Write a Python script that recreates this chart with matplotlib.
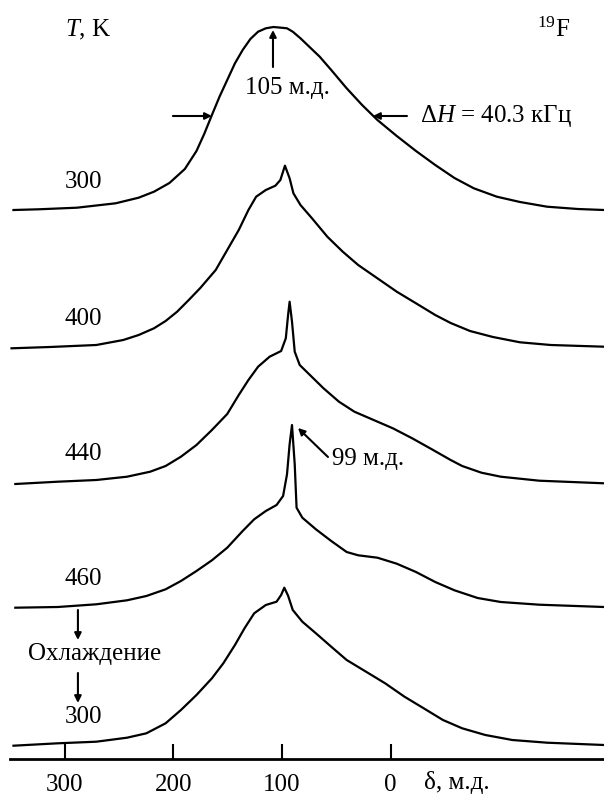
import matplotlib
matplotlib.use("Agg")
import matplotlib.pyplot as plt

plt.rcParams['font.family'] = ['Liberation Serif', 'DejaVu Serif']
plt.rcParams['mathtext.fontset'] = 'custom'
plt.rcParams['mathtext.rm'] = 'Liberation Serif'
plt.rcParams['mathtext.it'] = 'Liberation Serif:italic'

# 19F spectra: shift (ppm) and intensity (arb. units)
ppm_300 = [347, 324, 288.6, 253, 231.8, 217.7, 203.5, 189.3, 178.6, 171.5, 164.4, 157.4,
           150.3, 143.2, 136.1, 129, 121.9, 114.8, 107.8, 100.7, 95.3, 90, 82.9, 75.8,
           65.2, 54.6, 40.4, 26.2, 12.1, -5.7, -23.4, -41.1, -58.8, -76.6, -97.8,
           -119.1, -144, -172.3, -196.4]
int_300 = [0, 0.7, 2.3, 6.7, 12.3, 18.3, 27, 41, 59, 76, 95, 113.3,
           130, 146.7, 160, 171, 178.3, 181.7, 183, 182.3, 181.7, 178.3, 171.7, 164.3,
           153.3, 140, 121.7, 105, 90, 74, 59, 45, 32, 21.7, 13.3,
           8, 3.3, 1, 0]

ppm_400 = [348.8, 313.4, 270.8, 246, 231.8, 217.7, 207, 196.4, 185.7, 175.1, 160.9, 150.3,
           139.7, 130.8, 123.7, 114.8, 106, 101.4, 97.2, 92.9, 89.4, 82.9, 72.3, 58.2,
           44, 29.8, 12.1, -5.7, -23.4, -41.1, -55.3, -73.1, -94.2, -119.1, -147.4, -196.4]
int_400 = [-1.3, 0, 2, 7, 12, 18.7, 26, 35.3, 47, 59, 77, 97,
           117, 137, 150.3, 157, 161.3, 167, 181.3, 168.7, 153.7, 142, 128.7, 110.3,
           95.3, 82, 68.7, 55.3, 43.7, 32, 24, 16, 10, 4.7, 2, 0.3]

ppm_440 = [345.3, 306.2, 270.8, 242.5, 221.2, 207, 192.9, 178.6, 164.4, 150.3, 139.7, 130.8,
           121.9, 111.3, 100.7, 96.4, 94.3, 92.9, 90.7, 88.2, 83.6, 75.8, 61.7, 47.5,
           33.3, 15.6, -2.1, -19.9, -37.5, -55.3, -65.9, -83.6, -101.4, -136.8, -196.4]
int_440 = [-2, 0.3, 2, 5.3, 10.3, 16, 25.3, 37, 52, 68, 87, 102,
           115.3, 125.3, 131, 143.7, 167, 180.3, 160.3, 130.3, 117, 108.7, 93.7, 80.3,
           70.3, 62, 53.7, 43.7, 33, 22, 16, 9.3, 5.3, 1.3, -1.3]

ppm_460 = [345.3, 306.2, 270.8, 242.5, 224.7, 207, 192.9, 178.6, 164.4, 150.3, 136.1, 125.5,
           114.8, 104.9, 98.9, 95.3, 92.9, 90.7, 88.2, 86.5, 81.2, 68.7, 54.6, 40.4,
           29.8, 12.1, -5.7, -23.4, -41.1, -58.8, -80.1, -101.4, -136.8, -196.4]
int_460 = [-0.7, 0, 2.7, 6.7, 11, 17.7, 26, 36, 46.7, 59.3, 76, 87.7,
           96, 102, 111, 132.7, 162.7, 182, 142.7, 99.3, 89.3, 77.7, 66, 55,
           51.7, 49.3, 43.3, 35, 25, 16.7, 9, 5, 2.3, 0]

ppm_300c = [347, 306.2, 270.8, 242.5, 224.7, 207, 192.9, 178.6, 164.4, 153.9, 143.2, 134.4,
            125.5, 114.8, 104.9, 100.7, 97.8, 94.3, 90, 81.2, 68.7, 54.6, 40.4, 22.6,
            5, -12.8, -30.5, -48.2, -65.9, -87.2, -112, -144, -196.4]
int_300c = [-0.7, 1.7, 3.3, 7.3, 11.7, 21.7, 35, 50, 66.7, 81.7, 100, 116.7,
            131.7, 140, 143.3, 150, 157.3, 149.3, 135, 123.3, 111.7, 98.3, 85, 73.3,
            61.7, 48.3, 36.7, 25, 16.7, 10, 5, 2.3, 0]

spectra = [(ppm_300, int_300), (ppm_400, int_400), (ppm_440, int_440),
           (ppm_460, int_460), (ppm_300c, int_300c)]
offsets = [588, 451, 316, 191, 53]
temp_labels = ['300', '400', '440', '460', '300']
xticks = [300, 200, 100, 0]

fig = plt.figure(figsize=(6.04, 7.98), dpi=100)
ax = fig.add_axes([0, 0, 1, 1])
ax.set_xlim(359.4, -196.4)
ax.set_ylim(0, 798)

for (x, y), off in zip(spectra, offsets):
    ax.plot(x, [v + off for v in y], color='black', lw=1.6, solid_joinstyle='round')

for lab, off in zip(temp_labels, offsets):
    ax.text(283, off + 28, lab, fontsize=18, ha='center', va='center')

# axis
for s in ['top', 'left', 'right']:
    ax.spines[s].set_visible(False)
ax.spines['bottom'].set_position(('data', 39))
ax.spines['bottom'].set_bounds(350.6, -196.4)
ax.spines['bottom'].set_linewidth(2)
ax.set_yticks([])
ax.set_xticks(xticks)
ax.set_xticklabels([str(t) for t in xticks])
ax.tick_params(axis='x', direction='in', length=11, width=1.5, pad=11, labelsize=18)
ax.text(-30.7, 15, 'δ, м.д.', fontsize=18, ha='left', va='center')

# annotations
ax.text(278.5, 768, '$T$, K', fontsize=18, ha='center', va='center')
ax.text(-134.7, 768, '$^{19}$F', fontsize=18, ha='left', va='center')
ax.text(95.3, 710, '105 м.д.', fontsize=18, ha='center', va='center')
arrow = dict(arrowstyle='-|>', color='black', lw=1.5, mutation_scale=10, shrinkA=0, shrinkB=0)
ax.annotate('', xy=(108.2, 768), xytext=(108.2, 731), arrowprops=arrow)
ax.annotate('', xy=(164.4, 682), xytext=(200.3, 682), arrowprops=arrow)
ax.annotate('', xy=(16.2, 682), xytext=(-15.1, 682), arrowprops=arrow)
ax.text(-27.2, 682, 'Δ$H$ = 40.3 кГц', fontsize=18, ha='left', va='center')

ax.annotate('', xy=(85.2, 370), xytext=(57.6, 341), arrowprops=arrow)
ax.text(54, 339, '99 м.д.', fontsize=18, ha='left', va='center')

ax.annotate('', xy=(287.7, 158), xytext=(287.7, 188), arrowprops=arrow)
ax.text(271.9, 144, 'Охлаждение', fontsize=18, ha='center', va='center')
ax.annotate('', xy=(287.7, 95), xytext=(287.7, 125), arrowprops=arrow)

fig.savefig('out.png', dpi=100)
